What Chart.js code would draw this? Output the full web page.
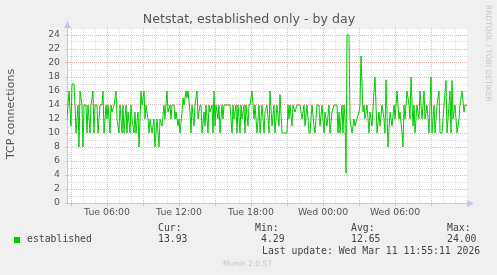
<!DOCTYPE html>
<html>
<head>
<meta charset="utf-8">
<script src="https://cdn.jsdelivr.net/npm/chart.js@4.4.1/dist/chart.umd.min.js"></script>
<style>
  body { margin: 0; background: #f0f0f0; }
  #wrap { position: relative; width: 497px; height: 275px; overflow: hidden; font-family: 'DejaVu Sans', sans-serif; color: #555; }
  #chart { position: absolute; left: 0; top: 0; }
  .t { position: absolute; white-space: nowrap; line-height: 12px; }
  .mono { font-family: 'DejaVu Sans Mono', monospace; font-size: 9.8px; color: #444; }
</style>
</head>
<body>
<div id="wrap">
  <canvas id="chart" width="497" height="275"></canvas>
  <div class="t" style="left:249px; top:19px; transform:translate(-50%,-50%); font-size:12.6px;">Netstat, established only - by day</div>
  <div class="t" style="left:11px; top:114px; transform:translate(-50%,-50%) rotate(-90deg); font-size:11px;">TCP connections</div>
  <div class="t" style="left:484px; top:5px; writing-mode:vertical-rl; font-size:7.5px; line-height:8px; color:#c8c8c8;">RRDTOOL / TOBI OETIKER</div>

  <div style="position:absolute; left:14px; top:237px; width:6px; height:6px; background:#00cc00;"></div>
  <div class="t mono" style="left:27px; top:233px;">established</div>
  <div class="t mono" style="left:158px; top:222px;">Cur:</div>
  <div class="t mono" style="left:158px; top:233px;">13.93</div>
  <div class="t mono" style="left:255px; top:222px;">Min:</div>
  <div class="t mono" style="left:261px; top:233px;">4.29</div>
  <div class="t mono" style="left:351px; top:222px;">Avg:</div>
  <div class="t mono" style="left:351px; top:233px;">12.65</div>
  <div class="t mono" style="left:447px; top:222px;">Max:</div>
  <div class="t mono" style="left:447px; top:233px;">24.00</div>
  <div class="t mono" style="left:262px; top:245px;">Last update: Wed Mar 11 11:55:11 2026</div>
  <div class="t" style="left:223px; top:258px; font-size:7.5px; color:#c8c8c8;">Munin 2.0.57</div>
</div>
<script>
/* samples: minutes since Tue 00:00 (5 minute steps) */
const sampleMinutes = [
  160,165,170,180,185,195,200,205,215,220,225,235,240,245,255,260,265,275,280,290,
  295,300,310,315,325,335,340,345,355,360,365,375,380,385,395,405,410,420,425,435,
  440,445,455,460,465,475,480,485,495,500,505,515,520,530,535,545,550,555,565,570,
  575,585,595,600,610,620,625,635,645,650,660,665,675,680,685,695,700,705,715,720,
  725,735,740,745,755,760,765,775,780,785,795,800,810,815,825,830,835,845,850,855,
  865,870,875,885,890,895,900,905,915,920,925,935,940,945,975,985,990,995,1005,1010,
  1015,1025,1030,1035,1045,1050,1055,1065,1070,1075,1085,1095,1100,1110,1120,1125,1135,1145,1150,1160,
  1170,1175,1185,1195,1200,1210,1220,1225,1235,1260,1265,1270,1275,1285,1290,1300,1310,1325,1335,1345,
  1350,1360,1370,1375,1385,1395,1400,1410,1420,1425,1435,1445,1450,1460,1470,1475,1485,1495,1510,1515,
  1520,1525,1535,1540,1545,1550,1555,1560,1570,1575,1585,1595,1600,1610,1620,1625,1630,1640,1645,1650,
  1660,1670,1675,1685,1695,1700,1710,1720,1725,1735,1745,1750,1755,1765,1775,1785,1795,1800,1810,1820,
  1825,1835,1840,1845,1850,1860,1870,1875,1880,1890,1895,1900,1910,1920,1925,1935,1945,1950,1960,1970,
  1980,1985,1995,2000,2010,2020,2025,2035,2045,2055,2060,2070,2075,2080,2085,2090,2100,2110,2120,2125,
  2135,2145,2150,2160
];
const established = [
  12,14,16,11,17,17,14,10,14,8,16,14,8,14,14,10,14,10,14,16,
  10,14,14,10,14,14,16,10,14,12,14,10,14,13,14,16,12,10,14,10,
  14,10,14,10,13,10,14,12,10,13,10,13,8,16,14,16,12,14,12,10,
  12,10,12,8,12,8,12,11,14,12,16,13,14,12,14,14,12,13,11,12,
  10,13,15,14,16,15,16,13,10,14,11,14,16,12,14,14,10,13,11,14,
  10,14,13,14,10,16,11,14,12,14,10,14,12,14,14,10,14,12,14,10,
  14,10,14,12,14,10,14,11,14,14,16,12,14,10,14,10,14,10,13,14,
  10,16,11,14,10,14,11,15.5,10,10,14,12,14,11,14,13,14,14,12,14,
  11,14,10,10,14,11,10,14,14,11,14,10,13,11,14,10,13,14,14,10,
  13,10,14,10,14,12,4.29,24,24,12,10,12,11,12,13,14,21,13,14,12,
  14,10,13,11,16,18,10,13,11,14,12,10,17.6,8,13,11,14,12,16,12,
  13,10,8,14,12,16,14,12,18,11,14,10,14,12,16,12,16,12,14,10,
  18,10,14,10,14,16,10,10,14,17.5,10,14,16,10,17.5,12,14,10,12,14,
  16,13,14,13.93
];
const xTickMinutes = [360, 720, 1080, 1440, 1800];
const xTickLabels = ['Tue 06:00', 'Tue 12:00', 'Tue 18:00', 'Wed 00:00', 'Wed 06:00'];

const RED = '#efb4b4';
const GRAY = '#dedede';
const AXIS = '#c0c6f2';
const NONE = 'rgba(0,0,0,0)';

/* white plot area plus the little axis arrows */
const munLook = {
  id: 'munLook',
  beforeDraw(chart) {
    const a = chart.chartArea, ctx = chart.ctx;
    ctx.save();
    ctx.fillStyle = '#ffffff';
    ctx.fillRect(a.left, a.top, a.right - a.left, a.bottom - a.top);
    ctx.restore();
  },
  afterDraw(chart) {
    const a = chart.chartArea, ctx = chart.ctx;
    ctx.save();
    ctx.fillStyle = AXIS;
    ctx.beginPath();
    ctx.moveTo(a.left + 0.5, a.top - 7);
    ctx.lineTo(a.left - 3, a.top);
    ctx.lineTo(a.left + 4, a.top);
    ctx.closePath();
    ctx.fill();
    ctx.beginPath();
    ctx.moveTo(a.right + 7, a.bottom + 0.5);
    ctx.lineTo(a.right, a.bottom - 3);
    ctx.lineTo(a.right, a.bottom + 4);
    ctx.closePath();
    ctx.fill();
    ctx.restore();
  }
};

const chart = new Chart(document.getElementById('chart'), {
  type: 'line',
  data: {
    datasets: [{
      label: 'established',
      data: sampleMinutes.map((m, i) => ({ x: m, y: established[i] })),
      borderColor: '#00cc00',
      borderWidth: 1,
      pointRadius: 0,
      tension: 0,
      fill: false
    }]
  },
  options: {
    responsive: false,
    animation: false,
    layout: { padding: { left: 0, right: 30, top: 28, bottom: 0 } },
    plugins: { legend: { display: false }, tooltip: { enabled: false } },
    scales: {
      x: {
        type: 'linear',
        min: 160,
        max: 2160,
        afterFit: (scale) => { scale.height = 72; },
        afterBuildTicks: (scale) => {
          const ticks = [];
          for (let m = 180; m <= 2100; m += 60) ticks.push({ value: m });
          scale.ticks = ticks;
        },
        grid: {
          color: (c) => (c.tick && c.tick.value % 180 === 0 ? RED : GRAY),
          tickColor: (c) => (c.tick && c.tick.value % 180 === 0 ? RED : NONE),
          tickLength: 3,
          lineWidth: 1
        },
        border: { color: AXIS, dash: [1, 1] },
        ticks: {
          autoSkip: false,
          maxRotation: 0,
          padding: 1,
          color: '#555',
          font: { family: 'DejaVu Sans', size: 9.33 },
          callback: (v) => {
            const i = xTickMinutes.indexOf(v);
            return i >= 0 ? xTickLabels[i] : '';
          }
        }
      },
      y: {
        min: 0,
        max: 25,
        afterFit: (scale) => { scale.width = 67; },
        grid: {
          color: (c) => (c.tick && c.tick.value % 2 === 0 ? RED : GRAY),
          tickColor: (c) => (c.tick && c.tick.value % 2 === 0 ? RED : NONE),
          tickLength: 2,
          lineWidth: 1
        },
        border: { color: AXIS, dash: [1, 1] },
        ticks: {
          stepSize: 1,
          autoSkip: false,
          padding: 5,
          color: '#555',
          font: { family: 'DejaVu Sans', size: 9.33 },
          callback: (v) => (v % 2 === 0 && v <= 24 ? String(v) : '')
        }
      }
    }
  },
  plugins: [munLook]
});
</script>
</body>
</html>
